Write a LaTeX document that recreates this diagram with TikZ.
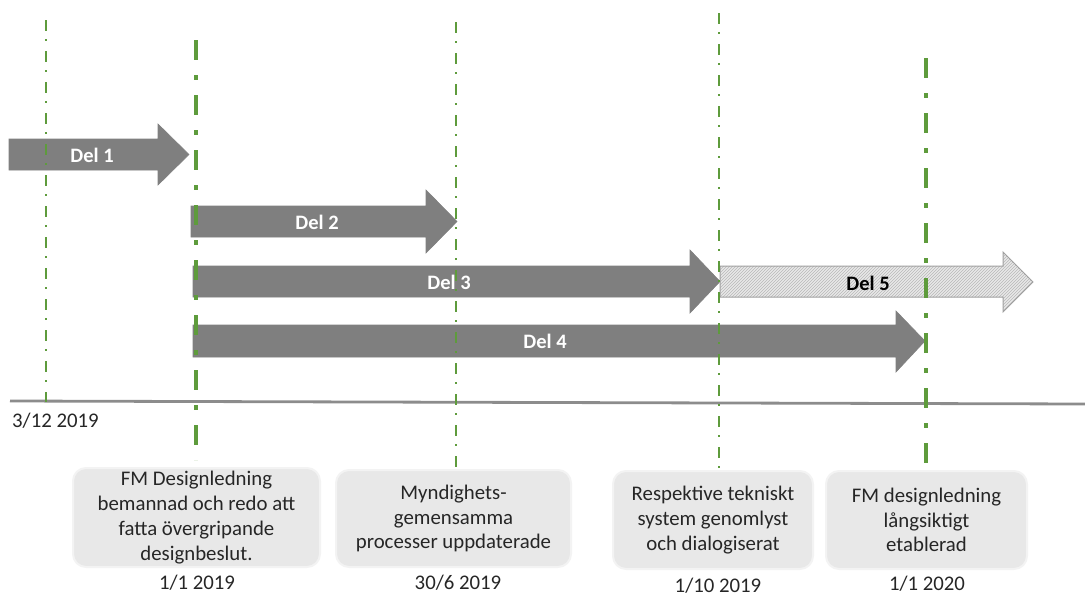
\documentclass[tikz,border=0pt]{standalone}
\usepackage{fontspec}
\setmainfont{Carlito}
\usetikzlibrary{patterns}
\definecolor{vgreen}{HTML}{5E9B3C}
\definecolor{arrgray}{HTML}{7F7F7F}
\definecolor{axgray}{HTML}{8C8C8C}
\definecolor{boxfill}{HTML}{E8E8E8}
\definecolor{boxline}{HTML}{F3F3F3}
\definecolor{hatchfill}{HTML}{E8E8E8}
\definecolor{hatchpat}{HTML}{B8B8B8}
\definecolor{hatchline}{HTML}{A0A0A0}
\begin{document}
\begin{tikzpicture}[x=1pt,y=-1pt,
  thinv/.style={draw=vgreen, line width=2.4pt, dash pattern=on 11pt off 8pt on 2pt off 10pt},
  thickv/.style={draw=vgreen, line width=4.5pt, dash pattern=on 20pt off 15pt on 5pt off 15pt},
  axisline/.style={draw=axgray, line width=2.8pt},
  solidarrow/.style={fill=arrgray, draw=arrgray, line width=0.6pt},
  hatcharrow/.style={preaction={fill=hatchfill}, pattern=north east lines, pattern color=hatchpat, draw=hatchline, line width=1pt},
  arrlabel/.style={font=\fontsize{20.5}{24}\selectfont\bfseries, text=white, inner sep=0pt},
  infobox/.style={fill=boxfill, draw=boxline, line width=2pt, rounded corners=13pt, inner sep=0pt, align=center, font=\fontsize{20.8}{24.8}\selectfont, text=black!85},
  datelabel/.style={font=\fontsize{20.8}{24}\selectfont, text=black!85, inner sep=0pt}
]
\useasboundingbox (0,0) rectangle (1085,597);

% axis
\coordinate (axL) at (10,401);
\coordinate (axR) at (1085,404);
\draw[axisline] (axL) -- (axR);

% arrows
\draw[solidarrow] (9,139) -- (158,139) -- (158,124) -- (189,154.5) -- (158,185) -- (158,170) -- (9,170) -- cycle;
\draw[solidarrow] (191,206) -- (426,206) -- (426,190) -- (457,221.5) -- (426,253) -- (426,237) -- (191,237) -- cycle;
\draw[solidarrow] (193,266) -- (690,266) -- (690,250) -- (720,281.5) -- (690,313) -- (690,297) -- (193,297) -- cycle;
\draw[hatcharrow] (720,266) -- (1003,266) -- (1003,252) -- (1033,282) -- (1003,312) -- (1003,297) -- (720,297) -- cycle;
\draw[solidarrow] (193,325) -- (896,325) -- (896,311) -- (925,341) -- (896,372) -- (896,357) -- (193,357) -- cycle;

\node[arrlabel] (d1) at (92,155) {Del 1};
\node[arrlabel] (d2) at (317,222) {Del 2};
\node[arrlabel] (d3) at (449,282) {Del 3};
\node[arrlabel] (d4) at (545,341) {Del 4};
\node[arrlabel, text=black] (d5) at (868,283) {Del 5};

% vertical milestone lines
\coordinate (vAt) at (46,20);   \coordinate (vAb) at (46,402);
\coordinate (vBt) at (196,40);  \coordinate (vBb) at (196,460);
\coordinate (vCt) at (456,22);  \coordinate (vCb) at (456,468);
\coordinate (vDt) at (719,13);  \coordinate (vDb) at (719,471);
\coordinate (vEt) at (926,58);  \coordinate (vEb) at (926,470);
\draw[thinv] (vAt) -- (vAb);
\draw[thickv] (vBt) -- (vBb);
\draw[thinv] (vCt) -- (vCb);
\draw[thinv] (vDt) -- (vDb);
\draw[thickv] (vEt) -- (vEb);

% start date
\node[datelabel, anchor=west] (s0) at (12,421) {3/12 2019};

% boxes
\node[infobox, minimum width=247pt, minimum height=99pt] (b1) at (196.5,517.5)
  {FM Designledning\\bemannad och redo att\\fatta övergripande\\designbeslut.};
\node[infobox, minimum width=235pt, minimum height=97pt] (b2) at (453.5,518.5)
  {Myndighets-\\gemensamma\\processer uppdaterade};
\node[infobox, minimum width=200pt, minimum height=98pt] (b3) at (713,520)
  {Respektive tekniskt\\system genomlyst\\och dialogiserat};
\node[infobox, minimum width=201pt, minimum height=98pt] (b4) at (926.5,520)
  {FM designledning\\långsiktigt\\etablerad};

% dates
\node[datelabel] (t1) at (197,583) {1/1 2019};
\node[datelabel] (t2) at (458,583) {30/6 2019};
\node[datelabel] (t3) at (718,586) {1/10 2019};
\node[datelabel] (t4) at (927,584) {1/1 2020};
\end{tikzpicture}
\end{document}
